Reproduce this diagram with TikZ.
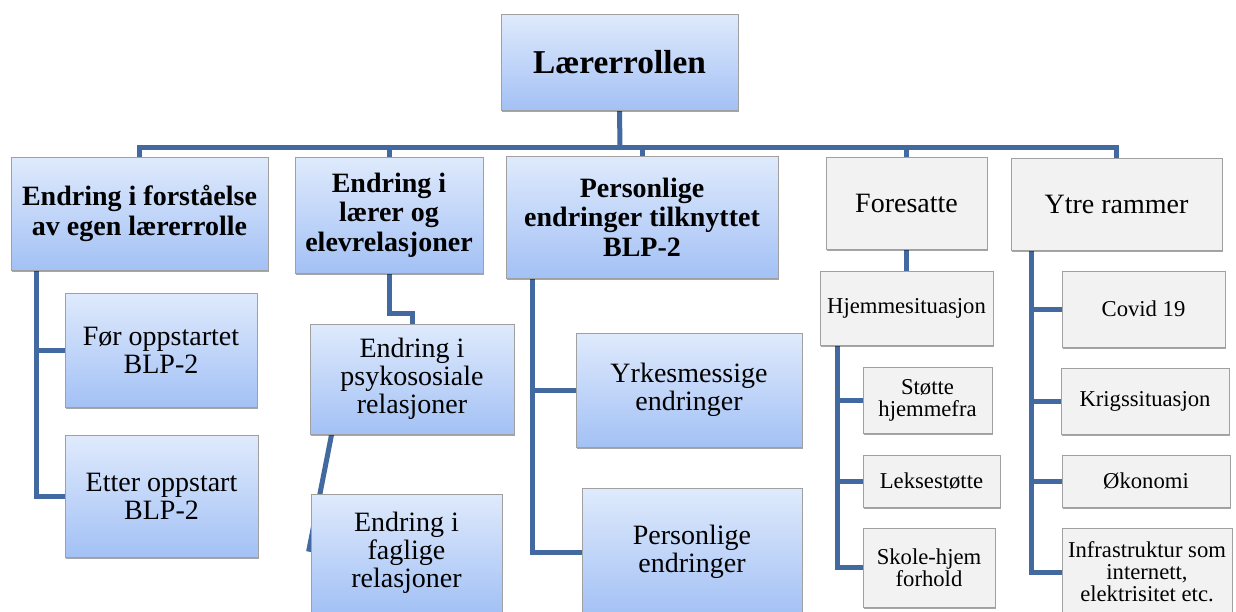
\documentclass[tikz,border=0pt]{standalone}
\usepackage{fontspec}
\setmainfont{Liberation Serif}
\usetikzlibrary{calc,shadows}
\definecolor{conncol}{RGB}{66,106,160}
\definecolor{bluetop}{RGB}{223,234,252}
\definecolor{bluebot}{RGB}{163,193,245}
\definecolor{grayfill}{RGB}{242,242,242}
\definecolor{boxline}{RGB}{160,160,160}
\pgfdeclarelayer{bottomlayer}
\pgfdeclarelayer{lineslayer}
\pgfsetlayers{bottomlayer,lineslayer,main}
\newcommand\mkbox[7]{\node[#6, minimum width={(#4-#2)*0.75pt}, minimum height={(#5-#3)*0.75pt}] (#1) at ({(#2+#4)/2},{(#3+#5)/2}) {#7};}
\begin{document}
\begin{tikzpicture}[x=0.75pt,y=-0.75pt,
  boxbase/.style={draw=boxline, line width=0.6pt, inner sep=2pt, align=center,
    drop shadow={shadow xshift=1pt,shadow yshift=-1.5pt,opacity=0.35,fill=black}},
  bluebox/.style={boxbase, top color=bluetop, bottom color=bluebot},
  graybox/.style={boxbase, fill=grayfill},
  bigtxt/.style={font=\fontsize{25}{30}\selectfont\bfseries},
  lonebold/.style={font=\fontsize{21}{22}\selectfont\bfseries},
  lonereg/.style={font=\fontsize{21}{22}\selectfont},
  ltwo/.style={font=\fontsize{21}{21}\selectfont},
  smalltxt/.style={font=\fontsize{17}{16.5}\selectfont},
  conn/.style={draw=conncol, line width=3.75pt}]
\begin{pgfonlayer}{bottomlayer}
\fill[white] (0,0) rectangle (1236,611);
\end{pgfonlayer}
\useasboundingbox (0,0) rectangle (1236,611);
\mkbox{lr}{501}{14}{738}{110}{bluebox,bigtxt}{Lærerrollen}
\mkbox{b1}{11}{157}{268}{270}{bluebox,lonebold}{Endring i forståelse\\av egen lærerrolle}
\mkbox{b2}{295}{157}{483}{273}{bluebox,lonebold}{Endring i\\lærer og\\elevrelasjoner}
\mkbox{b3}{506}{156}{778}{278}{bluebox,lonebold}{Personlige\\endringer tilknyttet\\BLP-2}
\mkbox{b4}{826}{157}{987}{249}{graybox,lonereg}{Foresatte}
\mkbox{b5}{1011}{158}{1222}{250}{graybox,lonereg}{Ytre rammer}
\mkbox{c11}{65}{293}{257}{407}{bluebox,ltwo}{Før oppstartet\\BLP-2}
\mkbox{c12}{65}{435}{258}{557}{bluebox,ltwo}{Etter oppstart\\BLP-2}
\mkbox{c21}{310}{324}{514}{434}{bluebox,ltwo}{Endring i\\psykososiale\\relasjoner}
\mkbox{c22}{311}{494}{502}{612}{bluebox,ltwo}{Endring i\\faglige\\relasjoner}
\mkbox{c31}{576}{333}{802}{447}{bluebox,ltwo}{Yrkesmessige\\endringer}
\mkbox{c32}{582}{488}{802}{616}{bluebox,ltwo}{Personlige\\endringer}
\mkbox{c41}{820}{271}{993}{345}{graybox,smalltxt}{Hjemmesituasjon}
\mkbox{c42}{863}{367}{992}{433}{graybox,smalltxt}{Støtte\\hjemmefra}
\mkbox{c43}{863}{455}{1000}{507}{graybox,smalltxt}{Leksestøtte}
\mkbox{c44}{863}{528}{995}{607}{graybox,smalltxt}{Skole-hjem\\forhold}
\mkbox{c51}{1062}{271}{1225}{347}{graybox,smalltxt}{Covid 19}
\mkbox{c52}{1061}{368}{1229}{434}{graybox,smalltxt}{Krigssituasjon}
\mkbox{c53}{1062}{455}{1230}{507}{graybox,smalltxt}{Økonomi}
\mkbox{c54}{1062}{528}{1232}{616}{graybox,smalltxt}{Infrastruktur som\\internett,\\elektrisitet etc.}
\begin{pgfonlayer}{lineslayer}
\coordinate (bus) at (620,147);
\draw[conn] (lr.south) -- (bus);
\draw[conn] (b1.north) |- (bus) -| (b5.north);
\foreach \n in {b2,b3,b4} \draw[conn] (\n.north) -- (\n.north |- bus);
\draw[conn] ($(b1.south west)+(26,0)$) |- (c11.west);
\draw[conn] ($(b1.south west)+(26,0)$) |- (c12.west);
\draw[conn] (b2.south) -- ++(0,40) -| (c21.north);
\draw[conn] ($(c21.south west)+(22,0)$) -- ($(c22.north west)+(-2,58)$);
\draw[conn] ($(b3.south west)+(27,0)$) |- (c31.west);
\draw[conn] ($(b3.south west)+(27,0)$) |- (c32.west);
\draw[conn] (b4.south) -- (c41.north);
\foreach \n in {c42,c43,c44} \draw[conn] ($(c41.south west)+(18,0)$) |- (\n.west);
\foreach \n in {c51,c52,c53,c54} \draw[conn] ($(b5.south west)+(21,0)$) |- (\n.west);
\end{pgfonlayer}
\end{tikzpicture}
\end{document}
